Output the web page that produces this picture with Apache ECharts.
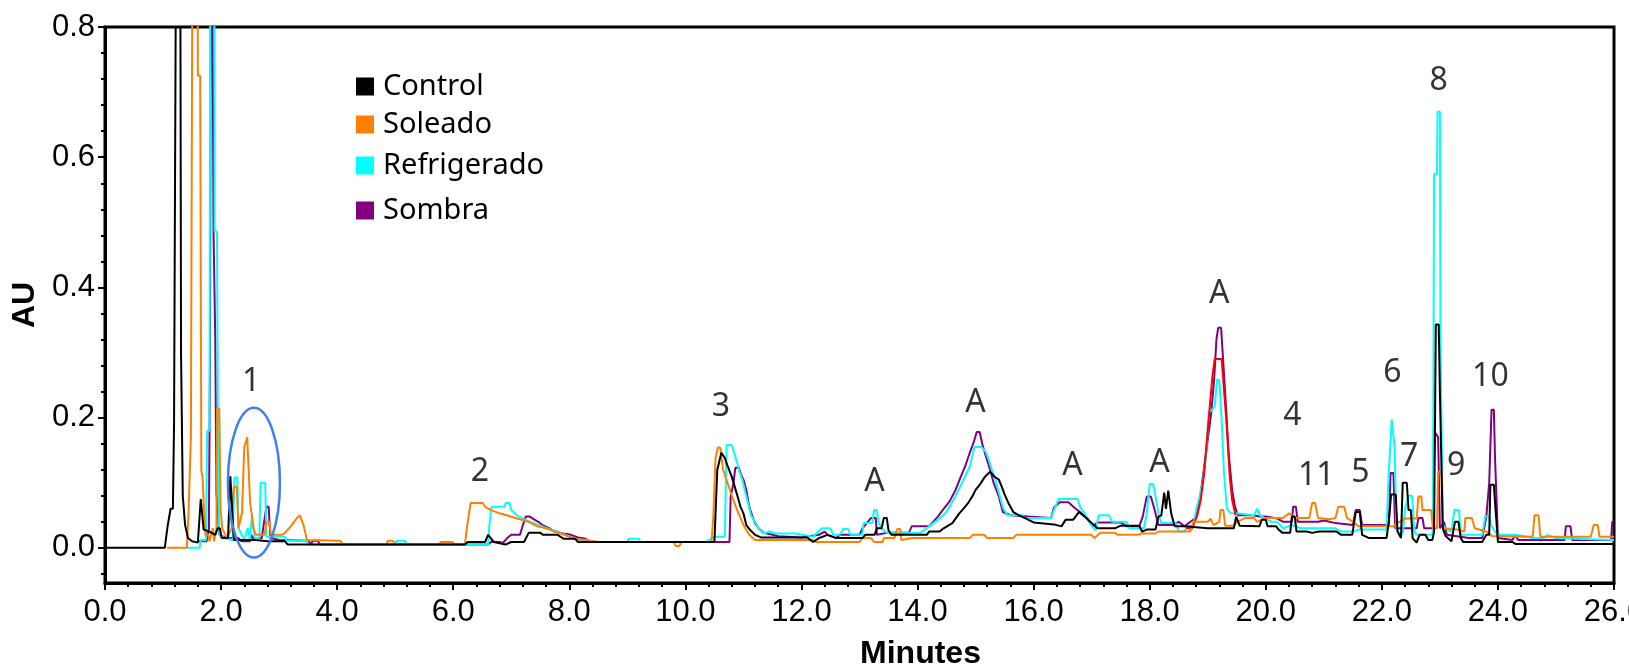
<!DOCTYPE html>
<html>
<head>
<meta charset="utf-8">
<title>Chromatogram</title>
<script src="https://cdn.jsdelivr.net/npm/echarts@6/dist/echarts.min.js"></script>
<style>
  html, body { margin: 0; padding: 0; background: #fff; }
  #chart { width: 1629px; height: 668px; }
</style>
</head>
<body>
<div id="chart"></div>
<script>
// values: [minutes, AU]
const controlData = [
  [0, 0], [1.03, 0], [1.08, 0.034], [1.13, 0.06], [1.17, 0.06], [1.19, 0.192], [1.22, 0.192], [1.24, 1.3], [1.29, 1.3],
  [1.31, 0.3], [1.34, 0.08], [1.38, 0.035], [1.43, 0.015], [1.5, 0.01], [1.6, 0.008], [1.65, 0.075], [1.68, 0.075],
  [1.7, 0.028], [1.8, 0.025], [1.9, 0.02], [1.94, 0.03], [1.98, 0.03], [2.01, 0.015], [2.12, 0.015], [2.16, 0.11],
  [2.19, 0.11], [2.22, 0.012], [2.6, 0.012], [2.8, 0.01], [3.1, 0.01], [3.15, 0.005], [6.2, 0.005], [6.25, 0.009],
  [6.55, 0.009], [6.6, 0.02], [6.7, 0.009], [6.9, 0.005], [7.0, 0.009], [7.22, 0.009], [7.3, 0.023], [7.5, 0.023],
  [7.55, 0.02], [7.8, 0.02], [7.9, 0.014], [8.1, 0.014], [8.15, 0.009], [10.5, 0.009], [10.55, 0.12], [10.62, 0.146],
  [10.68, 0.138], [10.73, 0.125], [10.8, 0.109], [10.85, 0.094], [10.9, 0.079], [10.95, 0.063], [11.0, 0.053],
  [11.05, 0.035], [11.12, 0.027], [11.2, 0.02], [11.3, 0.016], [12.1, 0.016], [12.2, 0.009], [12.3, 0.015],
  [12.45, 0.02], [12.6, 0.015], [12.7, 0.015], [13.05, 0.015], [13.1, 0.02], [13.26, 0.02], [13.3, 0.03], [13.38, 0.03],
  [13.42, 0.046], [13.47, 0.046], [13.5, 0.027], [13.55, 0.02], [14.16, 0.02], [14.2, 0.025], [14.38, 0.025],
  [14.45, 0.03], [14.6, 0.038], [14.72, 0.053], [14.8, 0.061], [14.88, 0.07], [14.95, 0.08], [15.0, 0.089],
  [15.08, 0.098], [15.16, 0.109], [15.25, 0.117], [15.33, 0.109], [15.4, 0.105], [15.45, 0.094], [15.5, 0.082],
  [15.57, 0.068], [15.65, 0.055], [15.75, 0.05], [15.87, 0.045], [16.0, 0.039], [16.35, 0.036], [16.48, 0.033],
  [16.55, 0.043], [16.68, 0.043], [16.78, 0.055], [16.88, 0.048], [17.0, 0.038], [17.1, 0.03], [17.4, 0.03],
  [17.5, 0.034], [17.82, 0.034], [17.87, 0.025], [17.95, 0.028], [18.1, 0.028], [18.15, 0.048], [18.2, 0.05],
  [18.25, 0.085], [18.28, 0.06], [18.32, 0.088], [18.37, 0.053], [18.43, 0.033], [18.6, 0.033], [19.0, 0.03],
  [19.45, 0.03], [19.49, 0.048], [19.55, 0.034], [19.89, 0.033], [19.93, 0.043], [20.0, 0.043], [20.03, 0.033],
  [20.18, 0.033], [20.22, 0.028], [20.29, 0.023], [20.42, 0.023], [20.45, 0.048], [20.5, 0.048], [20.53, 0.025],
  [20.7, 0.025], [20.8, 0.023], [20.92, 0.025], [21.22, 0.025], [21.3, 0.02], [21.49, 0.02], [21.55, 0.055],
  [21.62, 0.055], [21.66, 0.02], [21.78, 0.015], [22.08, 0.015], [22.12, 0.04], [22.16, 0.082], [22.24, 0.082],
  [22.27, 0.025], [22.33, 0.015], [22.36, 0.1], [22.43, 0.1], [22.46, 0.058], [22.5, 0.058], [22.53, 0.015],
  [22.6, 0.008], [22.65, 0.02], [22.75, 0.02], [22.8, 0.012], [22.87, 0.012], [22.9, 0.025], [22.93, 0.343],
  [22.98, 0.343], [23.0, 0.24], [23.03, 0.24], [23.05, 0.03], [23.1, 0.018], [23.2, 0.01], [23.26, 0.04],
  [23.32, 0.04], [23.36, 0.015], [23.4, 0.009], [23.73, 0.009], [23.8, 0.02], [23.85, 0.02], [23.87, 0.097],
  [23.93, 0.097], [23.95, 0.07], [23.97, 0.07], [24.0, 0.009], [24.25, 0.009], [24.3, 0.006], [26, 0.006]
];
const soleadoData = [
  [1.07, 0], [1.41, 0], [1.44, 0.055], [1.47, 0.055], [1.48, 0.171], [1.51, 0.171], [1.52, 1.3], [1.58, 1.3],
  [1.6, 0.725], [1.64, 0.725], [1.66, 0.118], [1.68, 0.11], [1.7, 0.07], [1.73, 0.02], [1.78, 0.02], [1.8, 0.01],
  [1.86, 0.03], [1.88, 0.01], [1.92, 0.03], [1.93, 0.214], [1.97, 0.214], [1.99, 0.06], [2.02, 0.03], [2.1, 0.015],
  [2.18, 0.03], [2.22, 0.094], [2.27, 0.094], [2.3, 0.03], [2.36, 0.054], [2.4, 0.155], [2.43, 0.155], [2.45, 0.17],
  [2.48, 0.17], [2.5, 0.07], [2.53, 0.07], [2.56, 0.03], [2.6, 0.02], [2.75, 0.02], [2.78, 0.04], [2.83, 0.04],
  [2.86, 0.02], [3.05, 0.02], [3.1, 0.023], [3.2, 0.033], [3.3, 0.045], [3.36, 0.05], [3.42, 0.035], [3.48, 0.012],
  [4.05, 0.011], [4.1, 0.005], [4.85, 0.005], [4.87, 0.011], [4.96, 0.011], [5.0, 0.005], [5.76, 0.005],
  [5.78, 0.009], [5.99, 0.009], [6.02, 0.005], [6.2, 0.005], [6.25, 0.04], [6.3, 0.069], [6.51, 0.069],
  [6.55, 0.063], [6.65, 0.058], [6.8, 0.053], [6.92, 0.05], [7.1, 0.045], [7.3, 0.04], [7.45, 0.033], [7.6, 0.03],
  [7.75, 0.025], [7.92, 0.02], [8.1, 0.014], [8.3, 0.012], [8.5, 0.009], [9.8, 0.009], [9.83, 0.003], [9.9, 0.003],
  [9.93, 0.009], [10.45, 0.009], [10.48, 0.046], [10.52, 0.138], [10.56, 0.154], [10.6, 0.154], [10.65, 0.12],
  [10.8, 0.08], [10.9, 0.056], [10.95, 0.046], [11.0, 0.035], [11.1, 0.02], [11.2, 0.012], [12.2, 0.012],
  [12.25, 0.009], [13.0, 0.009], [13.05, 0.015], [13.2, 0.015], [13.25, 0.009], [13.4, 0.009], [13.42, 0.015],
  [13.6, 0.015], [13.65, 0.029], [13.7, 0.029], [13.72, 0.012], [13.9, 0.015], [14.9, 0.015], [14.95, 0.02],
  [15.15, 0.02], [15.2, 0.015], [15.65, 0.015], [15.7, 0.02], [17.0, 0.02], [17.05, 0.015], [17.15, 0.023],
  [17.4, 0.023], [17.45, 0.02], [17.8, 0.02], [17.85, 0.022], [18.1, 0.022], [18.15, 0.025], [18.7, 0.025],
  [18.75, 0.04], [19.0, 0.04], [19.05, 0.045], [19.1, 0.035], [19.2, 0.04], [19.22, 0.058], [19.27, 0.058],
  [19.3, 0.034], [19.45, 0.034], [19.5, 0.04], [19.65, 0.046], [19.8, 0.046], [19.85, 0.04], [20.0, 0.046],
  [20.3, 0.046], [20.4, 0.053], [20.5, 0.046], [20.75, 0.046], [20.8, 0.069], [20.85, 0.069], [20.9, 0.046],
  [21.1, 0.044], [21.2, 0.046], [21.25, 0.063], [21.35, 0.063], [21.4, 0.046], [21.5, 0.04], [21.6, 0.033],
  [22.2, 0.033], [22.3, 0.04], [22.4, 0.045], [22.6, 0.045], [22.63, 0.079], [22.68, 0.079], [22.7, 0.058],
  [22.85, 0.058], [22.88, 0.03], [22.95, 0.03], [22.97, 0.117], [23.03, 0.117], [23.05, 0.03], [23.3, 0.028],
  [23.33, 0.025], [23.42, 0.025], [23.44, 0.046], [23.55, 0.046], [23.6, 0.03], [23.8, 0.025], [23.9, 0.018],
  [24.6, 0.017], [24.63, 0.05], [24.7, 0.05], [24.73, 0.017], [25.6, 0.017], [25.65, 0.035], [25.72, 0.035],
  [25.75, 0.017], [26, 0.017]
];
const refrigeradoData = [
  [1.41, 0], [1.63, 0], [1.65, 0.012], [1.74, 0.012], [1.76, 0.18], [1.8, 0.18], [1.82, 1.3], [1.88, 1.3],
  [1.89, 0.486], [1.93, 0.486], [1.95, 0.11], [1.97, 0.02], [2.05, 0.015], [2.2, 0.012], [2.23, 0.108], [2.28, 0.108],
  [2.3, 0.03], [2.4, 0.012], [2.46, 0.03], [2.5, 0.012], [2.53, 0.05], [2.56, 0.05], [2.58, 0.015], [2.66, 0.015],
  [2.68, 0.1], [2.76, 0.1], [2.78, 0.017], [3.1, 0.017], [3.13, 0.011], [3.48, 0.011], [3.5, 0.005], [5.0, 0.005],
  [5.02, 0.011], [5.17, 0.011], [5.2, 0.005], [6.6, 0.005], [6.62, 0.033], [6.66, 0.063], [6.88, 0.063],
  [6.9, 0.069], [6.97, 0.069], [7.0, 0.058], [7.1, 0.05], [7.2, 0.045], [7.35, 0.039], [7.5, 0.034], [7.65, 0.029],
  [7.8, 0.025], [7.93, 0.02], [8.1, 0.014], [8.2, 0.012], [8.3, 0.009], [9.0, 0.009], [9.02, 0.014], [9.2, 0.014],
  [9.22, 0.009], [10.27, 0.009], [10.3, 0.012], [10.35, 0.009], [10.5, 0.017], [10.68, 0.017], [10.71, 0.158],
  [10.8, 0.158], [10.85, 0.143], [10.9, 0.128], [10.93, 0.117], [10.98, 0.105], [11.03, 0.086], [11.08, 0.069],
  [11.13, 0.05], [11.2, 0.04], [11.26, 0.03], [11.35, 0.022], [11.45, 0.025], [11.55, 0.022], [11.9, 0.022],
  [12.2, 0.017], [12.35, 0.03], [12.5, 0.03], [12.55, 0.02], [12.66, 0.02], [12.72, 0.029], [12.8, 0.029],
  [12.85, 0.02], [13.05, 0.02], [13.07, 0.038], [13.22, 0.038], [13.25, 0.058], [13.3, 0.058], [13.33, 0.038],
  [13.38, 0.03], [13.47, 0.023], [14.05, 0.023], [14.2, 0.033], [14.35, 0.043], [14.48, 0.053], [14.57, 0.066],
  [14.65, 0.079], [14.74, 0.095], [14.82, 0.11], [14.9, 0.125], [14.98, 0.155], [15.1, 0.155], [15.17, 0.148],
  [15.23, 0.135], [15.28, 0.12], [15.34, 0.105], [15.4, 0.085], [15.47, 0.062], [15.55, 0.05], [15.8, 0.05],
  [15.85, 0.046], [16.3, 0.046], [16.35, 0.058], [16.43, 0.075], [16.76, 0.075], [16.8, 0.063], [16.9, 0.05],
  [17.0, 0.034], [17.07, 0.027], [17.12, 0.05], [17.3, 0.05], [17.35, 0.04], [17.6, 0.04], [17.65, 0.03],
  [17.9, 0.03], [17.95, 0.053], [18.0, 0.098], [18.06, 0.098], [18.1, 0.08], [18.15, 0.053], [18.2, 0.038],
  [18.45, 0.038], [18.5, 0.025], [18.6, 0.025], [18.65, 0.034], [18.75, 0.033], [18.8, 0.058], [18.86, 0.079],
  [18.92, 0.105], [18.97, 0.14], [19.02, 0.207], [19.12, 0.217], [19.16, 0.258], [19.2, 0.258], [19.24, 0.197],
  [19.28, 0.115], [19.33, 0.06], [19.4, 0.053], [19.5, 0.053], [19.8, 0.05], [19.85, 0.06], [19.9, 0.05],
  [20.0, 0.045], [20.1, 0.04], [20.2, 0.04], [20.3, 0.03], [20.45, 0.035], [20.6, 0.03], [21.2, 0.03],
  [21.3, 0.025], [21.5, 0.025], [21.6, 0.028], [22.08, 0.028], [22.12, 0.117], [22.17, 0.197], [22.22, 0.155],
  [22.25, 0.03], [22.3, 0.022], [22.36, 0.022], [22.4, 0.06], [22.46, 0.08], [22.52, 0.08], [22.56, 0.025],
  [22.6, 0.02], [22.87, 0.02], [22.88, 0.03], [22.9, 0.574], [22.95, 0.574], [22.96, 0.67], [23.0, 0.67],
  [23.01, 0.32], [23.03, 0.32], [23.05, 0.035], [23.1, 0.03], [23.2, 0.025], [23.25, 0.058], [23.33, 0.058],
  [23.36, 0.02], [23.73, 0.02], [23.78, 0.048], [23.85, 0.048], [23.88, 0.035], [23.95, 0.025], [24.0, 0.02],
  [24.3, 0.02], [24.5, 0.017], [24.6, 0.015], [24.8, 0.015], [24.85, 0.02], [25.0, 0.015], [26, 0.012]
];
const sombraData = [
  [1.6, 0.01], [1.75, 0.01], [1.79, 0.03], [1.81, 0.3], [1.83, 1.3], [1.86, 1.3], [1.87, 0.486], [1.9, 0.32],
  [1.92, 0.085], [1.95, 0.085], [1.97, 0.02], [2.1, 0.015], [2.3, 0.015], [2.35, 0.01], [2.5, 0.01], [2.52, 0.02],
  [2.55, 0.015], [2.7, 0.015], [2.78, 0.063], [2.82, 0.063], [2.85, 0.015], [3.0, 0.012], [3.5, 0.011],
  [3.55, 0.005], [3.58, 0.011], [3.67, 0.011], [3.7, 0.005], [6.6, 0.005], [6.65, 0.009], [6.8, 0.009],
  [6.85, 0.007], [6.93, 0.015], [7.0, 0.02], [7.15, 0.02], [7.2, 0.035], [7.25, 0.048], [7.32, 0.048],
  [7.37, 0.045], [7.48, 0.039], [7.56, 0.034], [7.66, 0.03], [7.75, 0.025], [7.9, 0.022], [8.03, 0.02],
  [8.15, 0.016], [8.28, 0.014], [8.35, 0.009], [10.63, 0.009], [10.76, 0.009], [10.78, 0.079], [10.83, 0.1],
  [10.86, 0.123], [10.92, 0.123], [10.97, 0.11], [11.0, 0.105], [11.05, 0.089], [11.1, 0.063], [11.15, 0.05],
  [11.2, 0.038], [11.26, 0.03], [11.35, 0.023], [11.5, 0.02], [11.6, 0.018], [12.0, 0.016], [12.3, 0.02],
  [12.4, 0.025], [12.45, 0.02], [12.6, 0.015], [12.66, 0.02], [13.0, 0.02], [13.05, 0.03], [13.2, 0.046],
  [13.28, 0.046], [13.3, 0.02], [13.47, 0.023], [13.85, 0.023], [13.9, 0.033], [14.2, 0.033], [14.35, 0.048],
  [14.45, 0.06], [14.55, 0.071], [14.65, 0.088], [14.73, 0.106], [14.82, 0.125], [14.9, 0.146], [14.97, 0.163],
  [15.02, 0.178], [15.07, 0.178], [15.12, 0.158], [15.18, 0.14], [15.25, 0.12], [15.31, 0.1], [15.4, 0.079],
  [15.47, 0.055], [15.6, 0.05], [15.9, 0.048], [16.3, 0.046], [16.35, 0.062], [16.45, 0.07], [16.6, 0.07],
  [16.7, 0.062], [16.8, 0.055], [16.92, 0.045], [17.02, 0.033], [17.1, 0.039], [17.5, 0.039], [17.6, 0.033],
  [17.82, 0.033], [17.88, 0.048], [17.95, 0.079], [18.02, 0.079], [18.08, 0.06], [18.15, 0.035], [18.4, 0.035],
  [18.5, 0.04], [18.6, 0.033], [18.7, 0.04], [18.78, 0.045], [18.83, 0.063], [18.88, 0.085], [18.94, 0.125],
  [19.0, 0.166], [19.06, 0.207], [19.11, 0.258], [19.15, 0.32], [19.18, 0.338], [19.23, 0.338], [19.25, 0.31],
  [19.3, 0.238], [19.36, 0.146], [19.42, 0.089], [19.47, 0.063], [19.52, 0.05], [19.77, 0.05], [19.9, 0.048],
  [20.0, 0.048], [20.2, 0.045], [20.3, 0.04], [20.45, 0.04], [20.47, 0.063], [20.52, 0.063], [20.55, 0.04],
  [20.9, 0.04], [21.0, 0.042], [21.2, 0.038], [21.5, 0.035], [21.55, 0.058], [21.62, 0.058], [21.66, 0.035],
  [22.12, 0.035], [22.15, 0.115], [22.2, 0.115], [22.23, 0.03], [22.6, 0.03], [22.63, 0.046], [22.7, 0.046],
  [22.73, 0.03], [22.88, 0.03], [22.91, 0.178], [22.97, 0.17], [23.0, 0.03], [23.07, 0.04], [23.12, 0.02],
  [23.5, 0.015], [23.73, 0.015], [23.8, 0.048], [23.85, 0.1], [23.89, 0.212], [23.93, 0.212], [23.95, 0.138],
  [23.97, 0.138], [24.0, 0.015], [24.25, 0.012], [24.3, 0.02], [24.35, 0.012], [25.15, 0.012], [25.17, 0.033],
  [25.25, 0.033], [25.28, 0.012], [25.95, 0.012], [25.97, 0.04], [26, 0.04]
];
// extra red trace under the big A peak (not in legend)
const redData = [
  [18.63, 0.03], [18.73, 0.03], [18.82, 0.05], [18.88, 0.074], [18.94, 0.115], [18.98, 0.16], [19.03, 0.212],
  [19.08, 0.263], [19.12, 0.29], [19.24, 0.29], [19.28, 0.243], [19.32, 0.197], [19.38, 0.109], [19.42, 0.074],
  [19.48, 0.05]
];
// peak labels: [minutes, AU, text]
const peakLabels = [
  [2.52, 0.255, '1'], [6.46, 0.117, '2'], [10.61, 0.217, '3'], [13.26, 0.102, 'A'], [15.0, 0.223, 'A'],
  [16.67, 0.126, 'A'], [18.17, 0.131, 'A'], [19.2, 0.39, 'A'], [20.46, 0.203, '4'], [20.87, 0.111, '11'],
  [21.63, 0.115, '5'], [22.18, 0.268, '6'], [22.47, 0.14, '7'], [22.98, 0.717, '8'], [23.28, 0.126, '9'],
  [23.87, 0.263, '10']
];
// ring around peak group 1: centre and radii in data units
const ring1 = { t: 2.566, v: 0.1, rt: 0.448, rv: 0.115 };

const yMajorTicks = [0, 0.2, 0.4, 0.6, 0.8];
const yMinorTicks = [-0.04, 0.04, 0.08, 0.12, 0.16, 0.24, 0.28, 0.32, 0.36, 0.44, 0.48, 0.52, 0.56, 0.64, 0.68, 0.72, 0.76];

const legendNames = ['Control', 'Soleado', 'Refrigerado', 'Sombra'];
const legendTops = [72, 110, 151, 196];

const chart = echarts.init(document.getElementById('chart'));

function lineSeries(name, data, color) {
  return {
    name: name,
    type: 'line',
    data: data,
    showSymbol: false,
    symbol: 'none',
    lineStyle: { color: color, width: 2 },
    itemStyle: { color: color },
    silent: true
  };
}

const axisFont = { fontFamily: 'Liberation Sans', fontSize: 31, color: '#000' };

const option = {
  animation: false,
  grid: {
    left: 105, right: 15, top: 27, bottom: 85,
    outerBoundsMode: 'none',
    show: true, borderColor: '#000', borderWidth: 3
  },
  legend: legendNames.map((name, i) => ({
    data: [name],
    left: 356,
    top: legendTops[i],
    padding: 0,
    icon: 'rect',
    itemWidth: 18,
    itemHeight: 18,
    selectedMode: false,
    textStyle: { fontFamily: 'Noto Sans', fontSize: 29, color: '#000', padding: [0, 0, 0, 4] }
  })),
  xAxis: {
    type: 'value',
    min: 0,
    max: 26,
    interval: 2,
    name: 'Minutes',
    nameLocation: 'middle',
    nameGap: 55,
    nameTextStyle: { fontFamily: 'Liberation Sans', fontSize: 32, fontWeight: 'bold', color: '#000', padding: [0, 0, 0, 122] },
    axisLine: { onZero: false, lineStyle: { color: '#000', width: 3 } },
    axisTick: { length: 7, lineStyle: { color: '#000', width: 2 } },
    minorTick: { show: true, splitNumber: 5, length: 4, lineStyle: { color: '#000', width: 2 } },
    axisLabel: Object.assign({ margin: 14, formatter: v => v.toFixed(1) }, axisFont),
    splitLine: { show: false }
  },
  yAxis: [
    {
      type: 'value',
      min: -0.054,
      max: 0.8,
      name: 'AU',
      nameLocation: 'middle',
      nameGap: 58,
      nameTextStyle: { fontFamily: 'Liberation Sans', fontSize: 32, fontWeight: 'bold', color: '#000' },
      axisLine: { show: true, onZero: false, lineStyle: { color: '#000', width: 3 } },
      axisTick: { show: true, customValues: yMajorTicks, length: 7, lineStyle: { color: '#000', width: 2 } },
      axisLabel: Object.assign({ customValues: yMajorTicks, margin: 10, formatter: v => v.toFixed(1) }, axisFont),
      splitLine: { show: false }
    },
    {
      type: 'value',
      min: -0.054,
      max: 0.8,
      position: 'left',
      axisLine: { show: false, onZero: false },
      axisTick: { show: true, customValues: yMinorTicks, length: 4, lineStyle: { color: '#000', width: 2 } },
      axisLabel: { show: false },
      splitLine: { show: false }
    }
  ],
  series: [
    lineSeries('Sombra', sombraData, '#800080'),
    lineSeries('Refrigerado', refrigeradoData, '#00FFFF'),
    lineSeries('red', redData, '#FF0000'),
    lineSeries('Soleado', soleadoData, '#FF8000'),
    lineSeries('Control', controlData, '#000000'),
    {
      type: 'scatter',
      data: peakLabels,
      symbolSize: 1,
      itemStyle: { color: 'rgba(0,0,0,0)' },
      silent: true,
      label: {
        show: true,
        position: 'inside',
        formatter: p => p.data[2],
        fontFamily: 'Noto Sans',
        fontSize: 32,
        color: '#000',
        textBorderWidth: 0
      }
    }
  ]
};

chart.setOption(option);

// ring drawn in pixels from its data centre
const c = chart.convertToPixel({ xAxisIndex: 0, yAxisIndex: 0 }, [ring1.t, ring1.v]);
const e = chart.convertToPixel({ xAxisIndex: 0, yAxisIndex: 0 }, [ring1.t + ring1.rt, ring1.v + ring1.rv]);
chart.setOption({
  graphic: [{
    type: 'ellipse',
    shape: { cx: c[0], cy: c[1], rx: Math.abs(e[0] - c[0]), ry: Math.abs(c[1] - e[1]) },
    style: { fill: 'none', stroke: '#3F7FEF', lineWidth: 2.5 },
    z: 100,
    silent: true
  }]
});
</script>
</body>
</html>
